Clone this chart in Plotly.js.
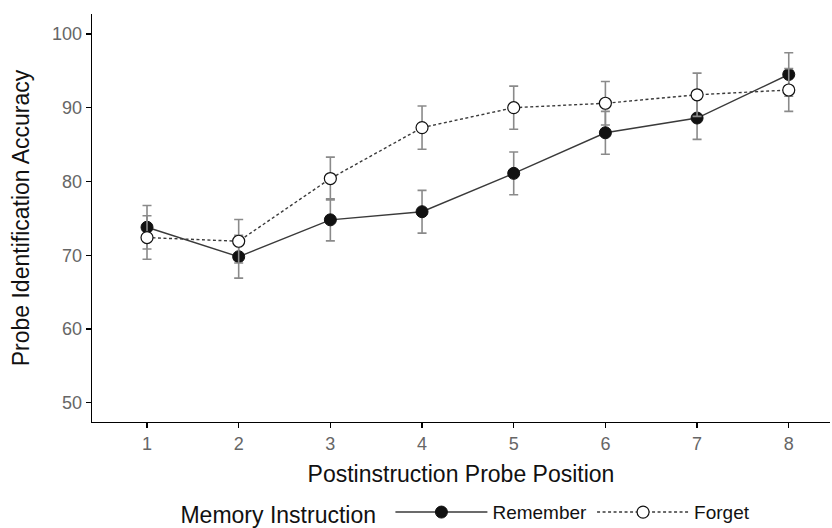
<!DOCTYPE html>
<html>
<head>
<meta charset="utf-8">
<script src="https://cdn.plot.ly/plotly-3.0.1.min.js"></script>
<style>html,body{margin:0;padding:0;background:#fff;}#chart{width:832px;height:528px;}</style>
</head>
<body>
<div id="chart"></div>
<script>
const positions = [1, 2, 3, 4, 5, 6, 7, 8];
const rememberMeans = [73.8, 69.8, 74.8, 75.9, 81.1, 86.6, 88.6, 94.5];
const rememberErr = [2.95, 2.9, 2.85, 2.9, 2.9, 2.9, 2.9, 2.95];
const forgetMeans = [72.4, 71.9, 80.4, 87.3, 90.0, 90.6, 91.75, 92.4];
const forgetErr = [2.95, 2.95, 2.9, 2.93, 2.93, 2.95, 2.93, 2.9];
const tickValsY = [50, 60, 70, 80, 90, 100];

const font = "Liberation Sans, Arial, sans-serif";

const traces = [
  {
    x: positions, y: rememberMeans, name: 'Remember', type: 'scatter', mode: 'lines+markers',
    line: {color: '#3a3a3a', width: 1.4},
    marker: {color: '#111111', size: 12, line: {color: '#111111', width: 1}},
    error_y: {type: 'data', array: rememberErr, visible: true, color: '#8a8a8a', thickness: 1.6, width: 4.5}
  },
  {
    x: positions, y: forgetMeans, name: 'Forget', type: 'scatter', mode: 'lines+markers',
    line: {color: '#3a3a3a', width: 1.4, dash: '3px,2.5px'},
    marker: {color: '#ffffff', size: 12, line: {color: '#111111', width: 1.2}},
    error_y: {type: 'data', array: forgetErr, visible: true, color: '#8a8a8a', thickness: 1.6, width: 4.5}
  }
];

const layout = {
  width: 832, height: 528,
  margin: {l: 92, r: 2, t: 14, b: 106},
  paper_bgcolor: '#ffffff', plot_bgcolor: '#ffffff',
  font: {family: font, color: '#000'},
  showlegend: true,
  xaxis: {
    range: [0.4, 8.45], tickvals: positions, ticktext: positions.map(String),
    showgrid: false, zeroline: false, showline: true, linecolor: '#000', linewidth: 1.3,
    ticks: 'outside', ticklen: 5, tickwidth: 1.2, tickcolor: '#000',
    tickfont: {size: 18, color: '#666666', family: font},
    title: {text: 'Postinstruction Probe Position', font: {size: 23, color: '#111', family: font}, standoff: 13}
  },
  yaxis: {
    range: [47.4, 102.7], tickvals: tickValsY,
    showgrid: false, zeroline: false, showline: true, linecolor: '#000', linewidth: 1.3,
    ticks: 'outside', ticklen: 5, tickwidth: 1.2, tickcolor: '#000',
    tickfont: {size: 18, color: '#666666', family: font},
    title: {text: 'Probe Identification Accuracy', font: {size: 23, color: '#111', family: font}, standoff: 16}
  },
  legend: {
    orientation: 'h', xref: 'container', yref: 'container',
    x: 0.2145, xanchor: 'left', y: 0.028, yanchor: 'middle',
    title: {text: 'Memory Instruction ', font: {size: 23, color: '#111', family: font}, side: 'left'},
    font: {size: 19, color: '#111', family: font},
    itemwidth: 92, traceorder: 'normal'
  }
};

Plotly.newPlot('chart', traces, layout, {displayModeBar: false, staticPlot: true});
</script>
</body>
</html>
